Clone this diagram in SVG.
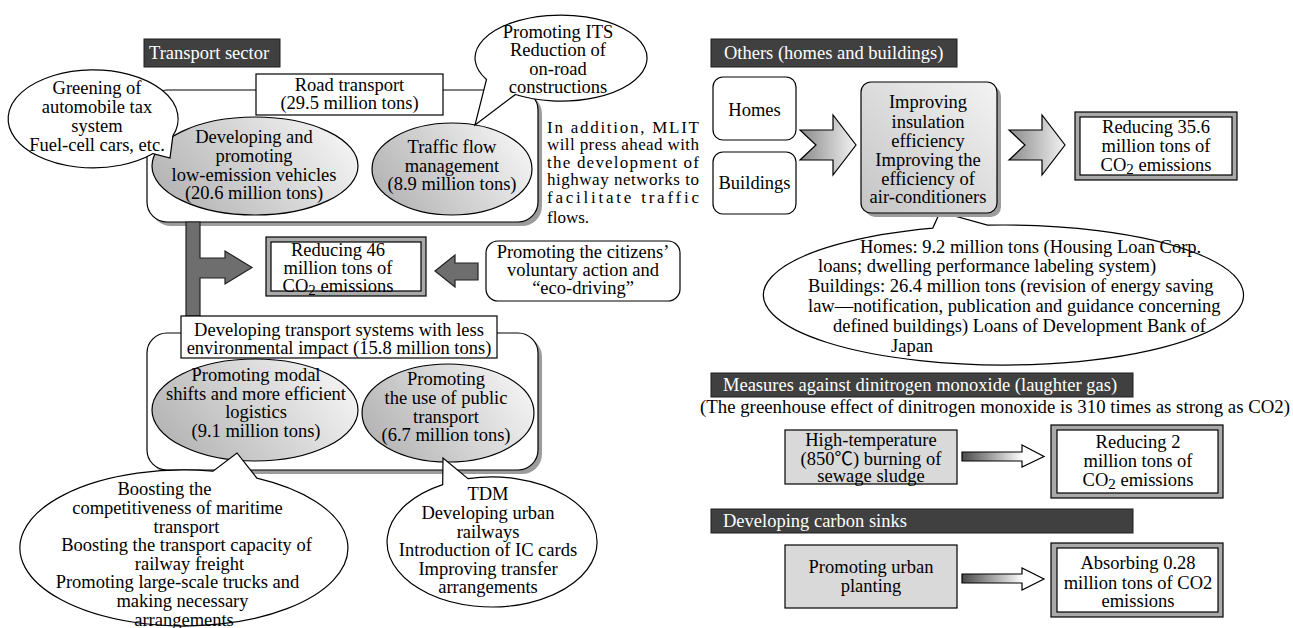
<svg xmlns="http://www.w3.org/2000/svg" width="1293" height="628" viewBox="0 0 1293 628">
<defs>
<style>
text { font-family: "Liberation Serif","Times New Roman","Noto Sans CJK JP",serif; font-size:18.5px; fill:#000; }
.m { text-anchor: middle; }
.w { fill:#fff; }
.ln { fill:#fff; stroke:#000; stroke-width:1.2; }
.hd { fill:#404040; stroke:#1e1e1e; stroke-width:1; }
.sh { fill:#9c9c9c; }
.ge { fill:url(#gEll); stroke:#000; stroke-width:1.2; }
.dk { fill:#6e6e6e; stroke:#222; stroke-width:1.2; }
.band { fill:#a9a9a9; stroke:#000; stroke-width:1.2; }
.lg { fill:#d9d9d9; stroke:#000; stroke-width:1.2; }
.gb { fill:url(#gBox); stroke:#000; stroke-width:1.2; }
.ch { fill:url(#gChev); stroke:#000; stroke-width:1.2; }
.sa { fill:url(#gArr); stroke:#000; stroke-width:1.2; }
.p { font-size:17px; }
</style>
<linearGradient id="gEll" x1="0" y1="0.7" x2="1" y2="0.3"><stop offset="0" stop-color="#b3b3b3"/><stop offset="1" stop-color="#f4f4f4"/></linearGradient>
<linearGradient id="gBox" x1="0" y1="1" x2="1" y2="0"><stop offset="0" stop-color="#c4c4c4"/><stop offset="1" stop-color="#f3f3f3"/></linearGradient>
<linearGradient id="gChev" x1="0" y1="0" x2="1" y2="0"><stop offset="0" stop-color="#8a8a8a"/><stop offset="1" stop-color="#f2f2f2"/></linearGradient>
<linearGradient id="gArr" x1="0" y1="0" x2="1" y2="0"><stop offset="0" stop-color="#4a4a4a"/><stop offset="0.75" stop-color="#ffffff"/></linearGradient>
</defs>

<g id="transport-header">
<rect class="hd" x="144" y="39" width="136" height="28"/>
<text class="w" x="149" y="59">Transport sector</text>
</g>

<g id="road-group">
<rect class="sh" x="151" y="94" width="391" height="132" rx="20"/>
<rect class="ln" x="147" y="90" width="391" height="132" rx="20"/>
</g>

<g id="low-emission">
<ellipse class="ge" cx="255" cy="166" rx="103" ry="49"/>
<text class="m" x="254" y="143">Developing and</text>
<text class="m" x="254" y="162">promoting</text>
<text class="m" x="254" y="181">low-emission vehicles</text>
<text class="m" x="254" y="199">(20.6 million tons)</text>
</g>

<g id="traffic-flow">
<ellipse class="ge" cx="452" cy="169" rx="80" ry="46"/>
<text class="m" x="452" y="153">Traffic flow</text>
<text class="m" x="452" y="172">management</text>
<text class="m" x="452" y="190">(8.9 million tons)</text>
</g>

<g id="road-transport">
<rect class="ln" x="256" y="74" width="187" height="41"/>
<text class="m" x="349.5" y="90.5">Road transport</text>
<text class="m" x="349.5" y="108.5">(29.5 million tons)</text>
</g>

<g id="greening">
<path class="ln" d="M172.9,135.8 A85,49 0 1 0 153.1,153.6 L170,158 Z"/>
<text class="m" x="97" y="93.5">Greening of</text>
<text class="m" x="97" y="112.5">automobile tax</text>
<text class="m" x="97" y="131.5">system</text>
<text class="m" x="97" y="150.5">Fuel-cell cars, etc.</text>
</g>

<g id="its">
<path class="ln" d="M486.5,79.5 A86,43 0 1 1 515.4,94.5 L475,125 Z"/>
<text class="m" x="558" y="37.5">Promoting ITS</text>
<text class="m" x="558" y="56">Reduction of</text>
<text class="m" x="558" y="74.5">on-road</text>
<text class="m" x="558" y="93">constructions</text>
</g>

<g id="mlit-note">
<text class="p" x="547" y="133" textLength="152" lengthAdjust="spacing">In addition, MLIT</text>
<text class="p" x="547" y="150" textLength="152" lengthAdjust="spacing">will press ahead with</text>
<text class="p" x="547" y="167.5" textLength="152" lengthAdjust="spacing">the development of</text>
<text class="p" x="547" y="185" textLength="152" lengthAdjust="spacing">highway networks to</text>
<text class="p" x="547" y="202.5" textLength="152" lengthAdjust="spacing">facilitate traffic</text>
<text class="p" x="547" y="223">flows.</text>
</g>

<g id="connectors">
<polygon class="dk" points="186,222 200,222 200,258 225,258 225,251 252,267.5 225,284 225,278 200,278 200,316 186,316"/>
<polygon class="dk" points="435,271 455,255 455,263 478,263 478,280 455,280 455,287"/>
<polygon class="ch" points="800,130 833,130 833,115 856,145 833,175 833,160 800,160 816,145"/>
<polygon class="ch" points="1009,130 1042,130 1042,115 1065,145 1042,175 1042,160 1009,160 1025,145"/>
<polygon class="sa" points="962,452 1022,452 1022,445 1044,456.5 1022,467 1022,461 962,461"/>
<polygon class="sa" points="962,574 1022,574 1022,568 1044,579 1022,590 1022,583 962,583"/>
</g>

<g id="reduce-46">
<rect class="band" x="266" y="237" width="160" height="59"/>
<rect class="ln" x="271" y="242" width="150" height="49"/>
<text class="m" x="338" y="255.5">Reducing 46</text>
<text class="m" x="338" y="273.5">million tons of</text>
<text class="m" x="338" y="291.5">CO<tspan font-size="15" dy="3">2</tspan><tspan dy="-3"> emissions</tspan></text>
</g>

<g id="citizens">
<rect class="ln" x="486" y="241" width="194" height="60" rx="12"/>
<text class="m" x="583" y="257.5">Promoting the citizens’</text>
<text class="m" x="583" y="275.5">voluntary action and</text>
<text class="m" x="583" y="293.5">“eco-driving”</text>
</g>

<g id="less-impact-group">
<rect class="sh" x="151" y="337" width="391" height="137" rx="20"/>
<rect class="ln" x="147" y="333" width="391" height="137" rx="20"/>
</g>

<g id="less-impact">
<rect class="ln" x="181" y="316" width="316" height="42"/>
<text class="m" x="339" y="335.5">Developing transport systems with less</text>
<text class="m" x="339" y="353.5">environmental impact (15.8 million tons)</text>
</g>

<g id="modal">
<ellipse class="ge" cx="255" cy="410" rx="103" ry="51"/>
<text class="m" x="256" y="381">Promoting modal</text>
<text class="m" x="256" y="399.5">shifts and more efficient</text>
<text class="m" x="256" y="418">logistics</text>
<text class="m" x="256" y="436.5">(9.1 million tons)</text>
</g>

<g id="public">
<ellipse class="ge" cx="448" cy="413" rx="86" ry="49"/>
<text class="m" x="446" y="385">Promoting</text>
<text class="m" x="446" y="404">the use of public</text>
<text class="m" x="446" y="423">transport</text>
<text class="m" x="446" y="441">(6.7 million tons)</text>
</g>

<g id="boosting">
<path class="ln" d="M213.05,471.23 A164,78 0 1 0 256.9,478.14 L237,453 Z"/>
<text class="m" x="164.5" y="495">Boosting the</text>
<text class="m" x="177.5" y="514">competitiveness of maritime</text>
<text class="m" x="186.5" y="532.5">transport</text>
<text class="m" x="186.5" y="551">Boosting the transport capacity of</text>
<text class="m" x="189.5" y="569.5">railway freight</text>
<text class="m" x="177.5" y="588">Promoting large-scale trucks and</text>
<text class="m" x="182.5" y="607">making necessary</text>
<text class="m" x="184" y="625.5">arrangements</text>
</g>

<g id="tdm">
<path class="ln" d="M442.7,484.6 A105,65 0 1 0 468,478.7 L443,458 Z"/>
<text class="m" x="488" y="500">TDM</text>
<text class="m" x="488" y="519">Developing urban</text>
<text class="m" x="488" y="537.5">railways</text>
<text class="m" x="488" y="556">Introduction of IC cards</text>
<text class="m" x="488" y="574.5">Improving transfer</text>
<text class="m" x="488" y="593">arrangements</text>
</g>

<g id="others-header">
<rect class="hd" x="711" y="39" width="246" height="28"/>
<text class="w" x="724" y="59">Others (homes and buildings)</text>
</g>

<g id="homes">
<rect class="ln" x="713" y="77" width="83" height="63" rx="10"/>
<text class="m" x="754.5" y="116">Homes</text>
</g>

<g id="buildings">
<rect class="ln" x="713" y="152" width="83" height="62" rx="10"/>
<text class="m" x="754.5" y="189">Buildings</text>
</g>

<g id="homes-callout">
<path class="ln" d="M932.8,228.1 A240,70 0 1 0 987.5,225.15 L940,212 Z"/>
<text x="860" y="253">Homes: 9.2 million tons (Housing Loan Corp.</text>
<text x="818" y="272">loans; dwelling performance labeling system)</text>
<text x="808" y="292">Buildings: 26.4 million tons (revision of energy saving</text>
<text x="808" y="312">law—notification, publication and guidance concerning</text>
<text x="833" y="331.5">defined buildings) Loans of Development Bank of</text>
<text x="891" y="352">Japan</text>
</g>

<g id="improving">
<rect class="sh" x="865" y="86" width="136" height="131" rx="10"/>
<rect class="gb" x="861" y="82" width="136" height="131" rx="10"/>
<text class="m" x="928" y="108">Improving</text>
<text class="m" x="928" y="127.5">insulation</text>
<text class="m" x="928" y="146.5">efficiency</text>
<text class="m" x="928" y="165.5">Improving the</text>
<text class="m" x="928" y="184.5">efficiency of</text>
<text class="m" x="928" y="203">air-conditioners</text>
</g>

<g id="reduce-35">
<rect class="band" x="1075" y="112" width="162" height="68"/>
<rect class="ln" x="1080" y="117" width="152" height="58"/>
<text class="m" x="1156" y="133">Reducing 35.6</text>
<text class="m" x="1156" y="152">million tons of</text>
<text class="m" x="1156" y="171">CO<tspan font-size="15" dy="3">2</tspan><tspan dy="-3"> emissions</tspan></text>
</g>

<g id="n2o-header">
<rect class="hd" x="711" y="373" width="422" height="24"/>
<text class="w" x="723" y="391">Measures against dinitrogen monoxide (laughter gas)</text>
</g>

<text id="n2o-note" x="700" y="413" textLength="590" lengthAdjust="spacingAndGlyphs">(The greenhouse effect of dinitrogen monoxide is 310 times as strong as CO2)</text>

<g id="sludge">
<rect class="lg" x="785" y="430" width="172" height="54"/>
<text class="m" x="871" y="446">High-temperature</text>
<text class="m" x="871" y="464.5">(850℃) burning of</text>
<text class="m" x="871" y="482">sewage sludge</text>
</g>

<g id="reduce-2">
<rect class="band" x="1051" y="425" width="172" height="73"/>
<rect class="ln" x="1057" y="430" width="161" height="63"/>
<text class="m" x="1138" y="448">Reducing 2</text>
<text class="m" x="1138" y="467">million tons of</text>
<text class="m" x="1138" y="486">CO<tspan font-size="15" dy="3">2</tspan><tspan dy="-3"> emissions</tspan></text>
</g>

<g id="sinks-header">
<rect class="hd" x="711" y="509" width="422" height="24"/>
<text class="w" x="723" y="527">Developing carbon sinks</text>
</g>

<g id="planting">
<rect class="lg" x="785" y="545" width="172" height="63"/>
<text class="m" x="871" y="573">Promoting urban</text>
<text class="m" x="871" y="592">planting</text>
</g>

<g id="absorbing">
<rect class="band" x="1051" y="543" width="172" height="74"/>
<rect class="ln" x="1057" y="548" width="161" height="64"/>
<text class="m" x="1138" y="569">Absorbing 0.28</text>
<text class="m" x="1138" y="589">million tons of CO2</text>
<text class="m" x="1138" y="607">emissions</text>
</g>
</svg>
